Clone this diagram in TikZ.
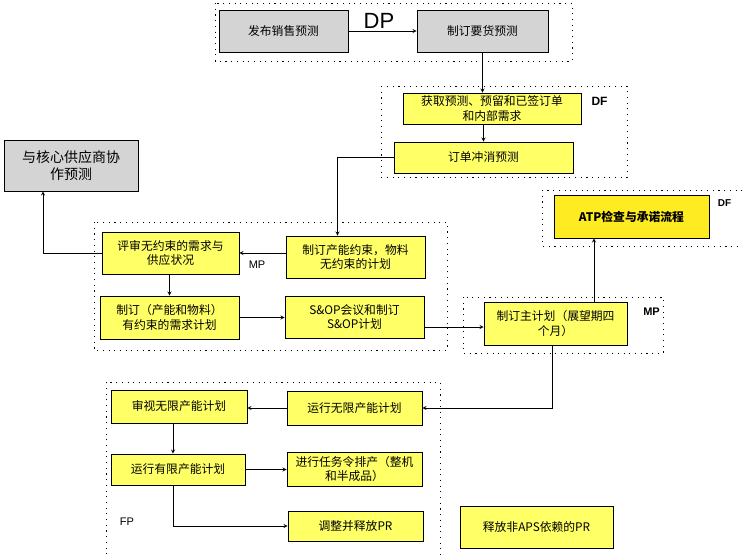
\documentclass[tikz,border=0pt]{standalone}
\usepackage{fontspec}
\setmainfont{Noto Sans CJK SC}
\newfontfamily\latinfont{Liberation Sans}
\usetikzlibrary{positioning,calc}
\definecolor{boxyellow}{HTML}{FFFF66}
\definecolor{atpyellow}{HTML}{FFEB22}
\definecolor{boxgray}{HTML}{D4D4D4}

\begin{document}
\begin{tikzpicture}[x=1pt, y=-1pt,
        task/.style={rectangle, draw, line width=0.9pt, fill=boxyellow, inner sep=0pt, align=center,
                     font=\fontsize{11.8}{14.5}\selectfont},
        graytask/.style={task, fill=boxgray},
        frame/.style={line width=0.9pt, dash pattern=on 1.1pt off 4.6pt},
        tag/.style={font=\latinfont\fontsize{11}{12}\selectfont},
        connection/.style={-stealth, line width=0.8pt}
    ]
        \useasboundingbox (0,0) rectangle (743,554);

        % Dotted frames
        \foreach \xa/\ya/\xb/\yb in {215/3/572/61, 381/86/627/177, 94/222/447/350, 463/297/663/353, 542/190/760/246} {
            \draw[frame] (\xa,\ya) rectangle (\xb,\yb);
        }
        \draw[frame] (106,560) -- (106,382) -- (440,382) -- (440,560);

        % Demand planning (top)
        \node[graytask, minimum width=129, minimum height=42] (pubfc) at (283.5,31) {发布销售预测};
        \node[graytask, minimum width=131, minimum height=42] (reqfc) at (482.5,31) {制订要货预测};
        \node[task, minimum width=178, minimum height=31] (getfc) at (492,108.5) {获取预测、预留和已签订单\\和内部需求};
        \node[task, minimum width=179, minimum height=31] (consume) at (483.5,157.5) {订单冲消预测};
        \node[graytask, minimum width=134, minimum height=51, font=\fontsize{14}{17}\selectfont] (collab) at (71,165.5) {与核心供应商协\\作预测};

        % Master planning
        \node[task, minimum width=139, minimum height=42] (capplan) at (355.5,257) {制订产能约束，物料\\无约束的计划};
        \node[task, minimum width=137, minimum height=42] (review) at (170.5,253) {评审无约束的需求与\\供应状况};
        \node[task, minimum width=139, minimum height=43] (conplan) at (169.5,317.5) {制订（产能和物料）\\有约束的需求计划};
        \node[task, minimum width=139, minimum height=42] (sop) at (354.5,317) {S\&OP会议和制订\\S\&OP计划};
        \node[task, minimum width=143, minimum height=43] (mps) at (555.5,323.5) {制订主计划（展望期四\\个月）};
        \node[task, fill=atpyellow, minimum width=155, minimum height=43, font=\fontsize{11.8}{14.5}\selectfont\bfseries] (atp) at (631.5,216.5) {ATP检查与承诺流程};

        % Factory planning
        \node[task, minimum width=135, minimum height=34] (runinf) at (354.5,408) {运行无限产能计划};
        \node[task, minimum width=136, minimum height=33] (chkinf) at (179,406.5) {审视无限产能计划};
        \node[task, minimum width=134, minimum height=31] (runfin) at (178,469.5) {运行有限产能计划};
        \node[task, minimum width=135, minimum height=34] (jobs) at (354.5,469) {进行任务令排产（整机\\和半成品）};
        \node[task, minimum width=135, minimum height=30] (relpr) at (355.5,526) {调整并释放PR};
        \node[task, minimum width=153, minimum height=42] (nonaps) at (536.5,527) {释放非APS依赖的PR};

        % Labels
        \node[font=\latinfont\fontsize{22}{24}\selectfont] (dp) at (379,21) {DP};
        \node[tag, font=\latinfont\fontsize{12}{13}\selectfont\bfseries] (df1) at (599.5,101) {DF};
        \node[tag] (mp1) at (257,265) {MP};
        \node[tag, font=\latinfont\fontsize{11}{12}\selectfont\bfseries] (mp2) at (651.5,311.5) {MP};
        \node[tag, font=\latinfont\fontsize{10}{12}\selectfont\bfseries] (df2) at (724.5,203.5) {DF};
        \node[tag] (fp) at (127,522) {FP};

        % Connections
        \draw[connection] (pubfc) -- (reqfc);
        \draw[connection] (reqfc.south) -- (reqfc.south |- getfc.north);
        \draw[connection] (consume.north |- getfc.south) -- (consume.north);
        \draw[connection] (consume.west) -| ([xshift=-18pt]capplan.north);
        \draw[connection] (capplan.west |- review.east) -- (review.east);
        \draw[connection] (review.west) -| ([xshift=-28pt]collab.south);
        \draw[connection] (review.south -| conplan.north) -- (conplan.north);
        \draw[connection] (conplan.east) -- (conplan.east -| sop.west);
        \draw[connection] ([yshift=-10pt]sop.east) -- ([yshift=-10pt]sop.east -| mps.west);
        \draw[connection] ([xshift=38.5pt]mps.north) -- ([xshift=38.5pt]mps.north |- atp.south);
        \draw[connection] ([xshift=-3.5pt]mps.south) |- (runinf.east);
        \draw[connection] (runinf.west) -- (runinf.west -| chkinf.east);
        \draw[connection] ([xshift=-6pt]chkinf.south) -- ([xshift=-6pt]chkinf.south |- runfin.north);
        \draw[connection] (runfin.east) -- (runfin.east -| jobs.west);
        \draw[connection] ([xshift=-5pt]runfin.south) |- (relpr.west);
\end{tikzpicture}
\end{document}
